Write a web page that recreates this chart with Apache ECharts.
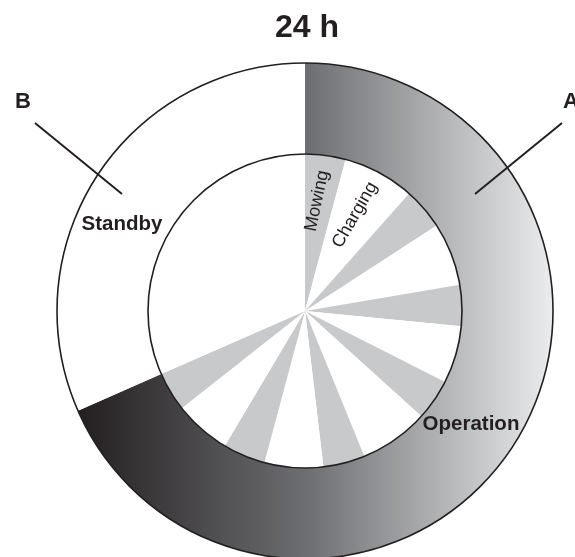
<!DOCTYPE html>
<html>
<head>
<meta charset="utf-8">
<script src="https://cdn.jsdelivr.net/npm/echarts@6/dist/echarts.min.js"></script>
<style>
  html, body { margin: 0; padding: 0; background: #fff; }
  #chart { width: 575px; height: 557px; }
</style>
</head>
<body>
<div id="chart"></div>
<script>
  // outer ring: share of the 24 h
  var ringNames = ['Operation', 'Standby'];
  var ringHours = [16.42, 7.58];

  // inner pie: mowing / charging cycles, then standby
  var cycleNames = ['Mowing', 'Charging', 'Mowing', 'Charging', 'Mowing', 'Charging', 'Mowing',
    'Charging', 'Mowing', 'Charging', 'Mowing', 'Charging', 'Mowing', 'Standby'];
  var cycleHours = [1.0, 1.77, 1.03, 1.56, 1.01, 1.42, 1.02, 1.71, 1.03, 1.45, 1.05, 1.4, 0.97, 7.58];

  var titleText = '24 h';

  var ink = '#231f20';
  var font = '"Liberation Sans", Arial, Helvetica, sans-serif';
  var center = [305, 311];
  var rIn = 157;
  var rOut = 248;

  var opGradient = new echarts.graphic.LinearGradient(0, 0, 1, 0, [
    { offset: 0, color: '#231f20' },
    { offset: 0.48, color: '#6d6e71' },
    { offset: 1, color: '#ebeced' }
  ]);

  var ringData = ringNames.map(function(n, i) {
    return {
      name: n,
      value: ringHours[i],
      itemStyle: { color: n == 'Operation' ? opGradient : '#ffffff' }
    };
  });

  var cycleData = cycleNames.map(function(n, i) {
    return {
      name: n,
      value: cycleHours[i],
      itemStyle: { color: n == 'Mowing' ? '#c8c9cb' : '#ffffff' }
    };
  });

  function txt(text, x, y, size, bold, rot) {
    return {
      type: 'text',
      x: x,
      y: y,
      rotation: (rot || 0) * Math.PI / 180,
      silent: true,
      z: 100,
      style: {
        text: text,
        x: 0,
        y: 0,
        fill: ink,
        font: (bold ? 'bold ' : '') + size + 'px ' + font,
        align: 'center',
        verticalAlign: 'middle',
        textAlign: 'center',
        textVerticalAlign: 'middle'
      }
    };
  }

  function leader(x1, y1, x2, y2) {
    return {
      type: 'line',
      silent: true,
      z: 100,
      shape: { x1: x1, y1: y1, x2: x2, y2: y2 },
      style: { stroke: ink, lineWidth: 2 }
    };
  }

  var option = {
    backgroundColor: '#ffffff',
    animation: false,
    title: {
      text: titleText,
      left: 275,
      top: 12,
      padding: 0,
      textStyle: { fontFamily: font, fontSize: 32, fontWeight: 'bold', color: ink }
    },
    series: [{
        type: 'pie',
        name: 'ring',
        center: center,
        radius: [rIn, rOut],
        startAngle: 90,
        clockwise: true,
        silent: true,
        label: { show: false },
        labelLine: { show: false },
        emphasis: { disabled: true },
        itemStyle: { borderWidth: 0 },
        data: ringData
      },
      {
        type: 'pie',
        name: 'cycles',
        center: center,
        radius: [0, rIn],
        startAngle: 90,
        clockwise: true,
        silent: true,
        label: { show: false },
        labelLine: { show: false },
        emphasis: { disabled: true },
        itemStyle: { borderWidth: 0 },
        data: cycleData
      },
      {
        // only the two circle outlines
        type: 'pie',
        name: 'outline',
        center: center,
        radius: [rIn, rOut],
        silent: true,
        z: 5,
        label: { show: false },
        labelLine: { show: false },
        emphasis: { disabled: true },
        itemStyle: { color: 'rgba(0,0,0,0)', borderColor: ink, borderWidth: 1.6 },
        data: [{ name: '24h', value: 24 }]
      }
    ],
    graphic: [
      leader(35, 123, 122, 194),
      leader(562, 123, 475, 194),
      txt('B', 23, 102, 22, true),
      {
        type: 'text',
        x: 563,
        y: 102,
        silent: true,
        z: 100,
        style: {
          text: 'A', x: 0, y: 0, fill: ink, font: 'bold 22px ' + font,
          align: 'left', verticalAlign: 'middle', textAlign: 'left', textVerticalAlign: 'middle'
        }
      },
      txt('Standby', 122, 224, 20.5, true),
      txt('Operation', 471, 424, 20.5, true),
      txt('Mowing', 317, 201, 18, false, 78),
      txt('Charging', 355, 215, 18, false, 60)
    ]
  };

  var myChart = echarts.init(document.getElementById('chart'));
  myChart.setOption(option, true);
</script>
</body>
</html>
